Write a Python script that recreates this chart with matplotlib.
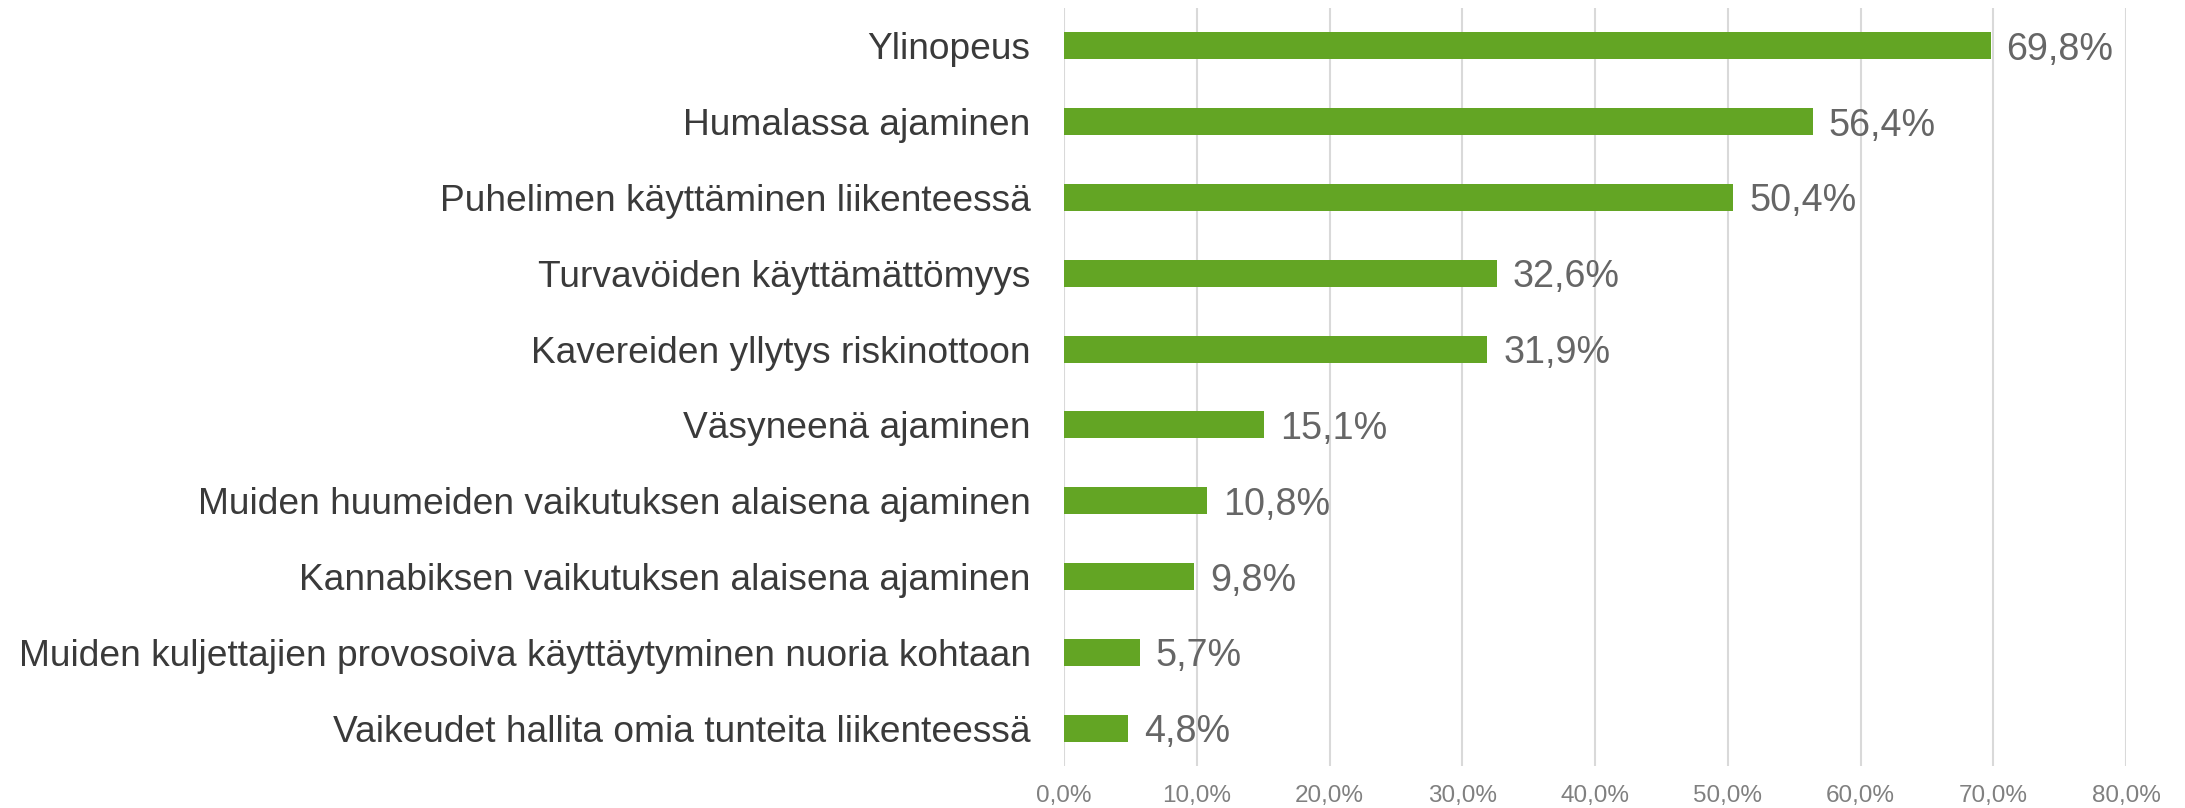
import matplotlib
matplotlib.use("Agg")
import matplotlib.pyplot as plt
from matplotlib.ticker import FuncFormatter

plt.rcParams['font.family'] = ['Liberation Sans', 'DejaVu Sans']

categories = [
    "Ylinopeus",
    "Humalassa ajaminen",
    "Puhelimen käyttäminen liikenteessä",
    "Turvavöiden käyttämättömyys",
    "Kavereiden yllytys riskinottoon",
    "Väsyneenä ajaminen",
    "Muiden huumeiden vaikutuksen alaisena ajaminen",
    "Kannabiksen vaikutuksen alaisena ajaminen",
    "Muiden kuljettajien provosoiva käyttäytyminen nuoria kohtaan",
    "Vaikeudet hallita omia tunteita liikenteessä",
]
values = [69.8, 56.4, 50.4, 32.6, 31.9, 15.1, 10.8, 9.8, 5.7, 4.8]
xticks = [0, 10, 20, 30, 40, 50, 60, 70, 80]

BAR = "#63A524"
GRID = "#D9D9D9"

fig = plt.figure(figsize=(21.85, 8.08), dpi=100)
ax = fig.add_axes([1064/2185, 1 - 766/808, (2126-1064)/2185, (766-8)/808])

y = list(range(len(categories)))
ax.barh(y, values, height=0.356, color=BAR, zorder=3)
ax.set_ylim(len(categories) - 0.5, -0.5)
ax.set_xlim(0, 80)
ax.set_xticks(xticks)
ax.xaxis.set_major_formatter(FuncFormatter(lambda v, p: f"{v:.1f}%".replace('.', ',')))
ax.set_yticks(y)
ax.set_yticklabels(categories, fontsize=26.7, color="#3A3A3A")
ax.tick_params(axis='y', length=0, pad=24)
ax.tick_params(axis='x', length=0, pad=14, labelsize=17.5, labelcolor="#808080")
ax.grid(axis='x', color=GRID, linewidth=1.5, zorder=0)
ax.set_axisbelow(True)
for s in ax.spines.values():
    s.set_visible(False)

for yi, v in zip(y, values):
    ax.annotate(f"{v:.1f}%".replace('.', ','), xy=(v, yi), xytext=(11.5, 0),
                textcoords='offset points', va='center_baseline', ha='left',
                fontsize=27.2, color="#666666", zorder=4)

fig.savefig("out.png", dpi=100)
